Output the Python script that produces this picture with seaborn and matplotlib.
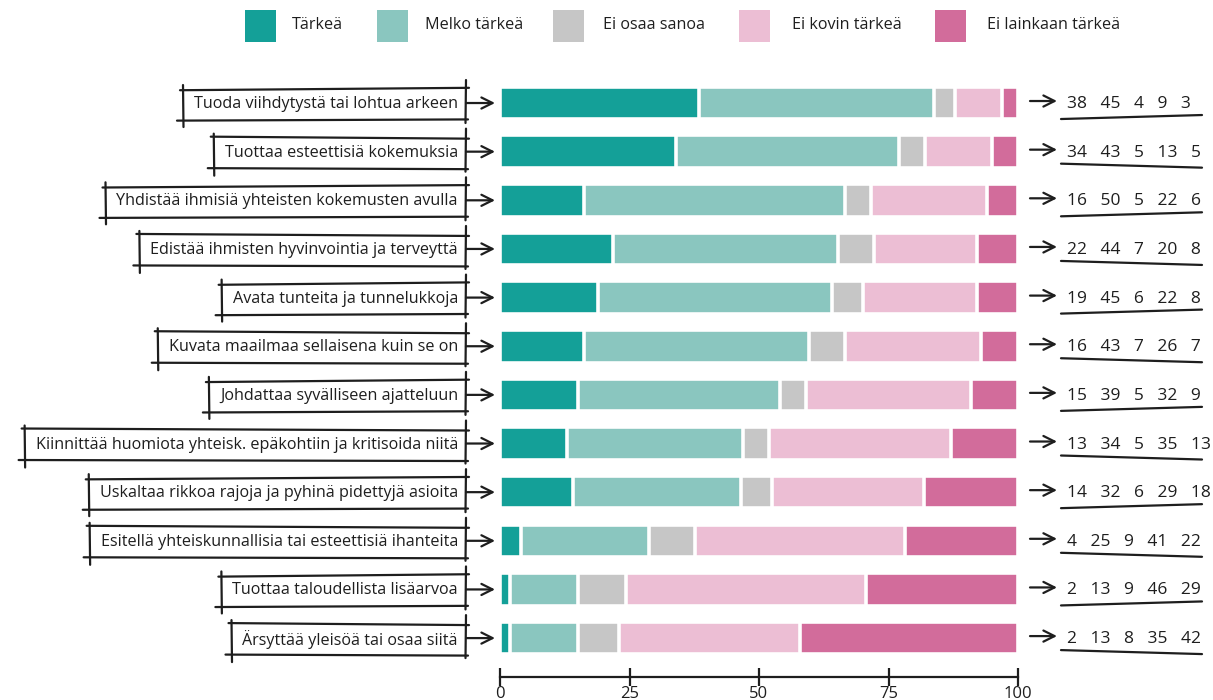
import matplotlib
matplotlib.use("Agg")
import matplotlib.pyplot as plt
import seaborn as sns
import numpy as np
import pandas as pd
from matplotlib.patches import Rectangle
from matplotlib.lines import Line2D

# --- data -------------------------------------------------------------
statements = [
    "Tuoda viihdytystä tai lohtua arkeen",
    "Tuottaa esteettisiä kokemuksia",
    "Yhdistää ihmisiä yhteisten kokemusten avulla",
    "Edistää ihmisten hyvinvointia ja terveyttä",
    "Avata tunteita ja tunnelukkoja",
    "Kuvata maailmaa sellaisena kuin se on",
    "Johdattaa syvälliseen ajatteluun",
    "Kiinnittää huomiota yhteisk. epäkohtiin ja kritisoida niitä",
    "Uskaltaa rikkoa rajoja ja pyhinä pidettyjä asioita",
    "Esitellä yhteiskunnallisia tai esteettisiä ihanteita",
    "Tuottaa taloudellista lisäarvoa",
    "Ärsyttää yleisöä tai osaa siitä",
]
tarkea = [38, 34, 16, 22, 19, 16, 15, 13, 14, 4, 2, 2]
melko_tarkea = [45, 43, 50, 44, 45, 43, 39, 34, 32, 25, 13, 13]
ei_osaa_sanoa = [4, 5, 5, 7, 6, 7, 5, 5, 6, 9, 9, 8]
ei_kovin_tarkea = [9, 13, 22, 20, 22, 26, 32, 35, 29, 41, 46, 35]
ei_lainkaan_tarkea = [3, 5, 6, 8, 8, 7, 9, 13, 18, 22, 29, 42]

categories = ["Tärkeä", "Melko tärkeä", "Ei osaa sanoa",
              "Ei kovin tärkeä", "Ei lainkaan tärkeä"]
colors = ["#14a098", "#8ac6bf", "#c6c6c6", "#ecbed4", "#d26c9b"]
x_ticks = [0, 25, 50, 75, 100]

# --- style ------------------------------------------------------------
sns.set_style("white")
plt.rcParams["font.family"] = ["Open Sans", "DejaVu Sans"]
INK = "#1e1e1e"
TXT = 11.6

W, H = 1213, 700
fig = plt.figure(figsize=(W / 100, H / 100), dpi=100)
ax = fig.add_axes([500 / W, 1 - 677 / H, 518 / W, (677 - 78.7) / H])

# shares normalised to 100 % per statement, stacked cumulatively
df = pd.DataFrame(
    {c: v for c, v in zip(categories,
                          [tarkea, melko_tarkea, ei_osaa_sanoa,
                           ei_kovin_tarkea, ei_lainkaan_tarkea])},
    index=statements,
)
shares = df.div(df.sum(axis=1), axis=0) * 100
cum = shares.cumsum(axis=1)

for k in reversed(range(len(categories))):
    sns.barplot(
        x=cum.iloc[:, k].values, y=statements, order=statements,
        orient="h", color=colors[k], saturation=1, width=0.67,
        edgecolor="white", linewidth=2.6, ax=ax,
    )

ax.set_xlim(0, 100)
ax.set_ylim(11.8, -0.5)
ax.set_xticks(x_ticks)
ax.set_xticklabels([str(t) for t in x_ticks])
ax.set_yticks([])
ax.set_xlabel("")
ax.set_ylabel("")
for s in ("left", "top", "right"):
    ax.spines[s].set_visible(False)
ax.spines["bottom"].set_linewidth(1.6)
ax.spines["bottom"].set_color(INK)
ax.tick_params(axis="x", bottom=True, direction="inout", length=13,
               width=1.6, color=INK, labelsize=12, labelcolor=INK, pad=0)


def fig_line(x0, y0, x1, y1, lw=1.6):
    """Line in pixel coordinates measured from the top-left corner."""
    fig.add_artist(Line2D([x0 / W, x1 / W], [1 - y0 / H, 1 - y1 / H],
                          transform=fig.transFigure, color=INK, lw=lw,
                          solid_capstyle="round"))


def fig_arrow(x0, x1, y):
    ax.annotate("", xy=(x1, H - y), xytext=(x0, H - y),
                xycoords="figure pixels", textcoords="figure pixels",
                arrowprops=dict(arrowstyle="->", lw=1.6, color=INK,
                                mutation_scale=20, shrinkA=0, shrinkB=0),
                annotation_clip=False)


# --- legend -----------------------------------------------------------
leg_sq = [245, 377, 553, 739, 935]
leg_tx = [292, 425, 603, 792, 987]
for cat, col, sx, tx in zip(categories, colors, leg_sq, leg_tx):
    fig.add_artist(Rectangle((sx / W, 1 - 42 / H), 31 / W, 32 / H,
                             transform=fig.transFigure, color=col, lw=0))
    fig.text(tx / W, 1 - 25 / H, cat, ha="left", va="center",
             fontsize=TXT, color=INK)

# --- row labels in sketched boxes, arrows, value strips ---------------
fig.canvas.draw()
renderer = fig.canvas.get_renderer()

values_by_row = df.values
for i, label in enumerate(statements):
    yc = H - ax.transData.transform((0, i))[1]
    t = fig.text(458 / W, 1 - (yc + 1) / H, label, ha="right", va="center",
                 fontsize=TXT, color=INK)
    bb = t.get_window_extent(renderer)
    left = bb.x0 - 11
    right = 466
    top = yc - 14
    bot = yc + 17
    s = 1.2 if i % 2 == 0 else -1.0
    # sketched box: overshooting strokes
    fig_line(left - 3, top + s, right + 3, top - s)
    fig_line(left - 6, bot + s * 0.5, right + 2, bot - s * 0.5)
    fig_line(left, top - 4, left + 0.5, bot + 7)
    fig_line(right, top - 9, right - 0.5, bot + 3)
    fig_arrow(right, 495, yc)

    # right side: arrow, raw values and underline
    fig_arrow(1030, 1057, yc - 2)
    nums = "   ".join(str(v) for v in values_by_row[i])
    fig.text(1067 / W, 1 - (yc + 1) / H, nums, ha="left", va="center",
             fontsize=12.5, color=INK)
    u = 2.0 if i % 2 == 0 else -2.0
    fig_line(1061, yc + 14 + u, 1202, yc + 14 - u)

fig.savefig("out.png", dpi=100)
